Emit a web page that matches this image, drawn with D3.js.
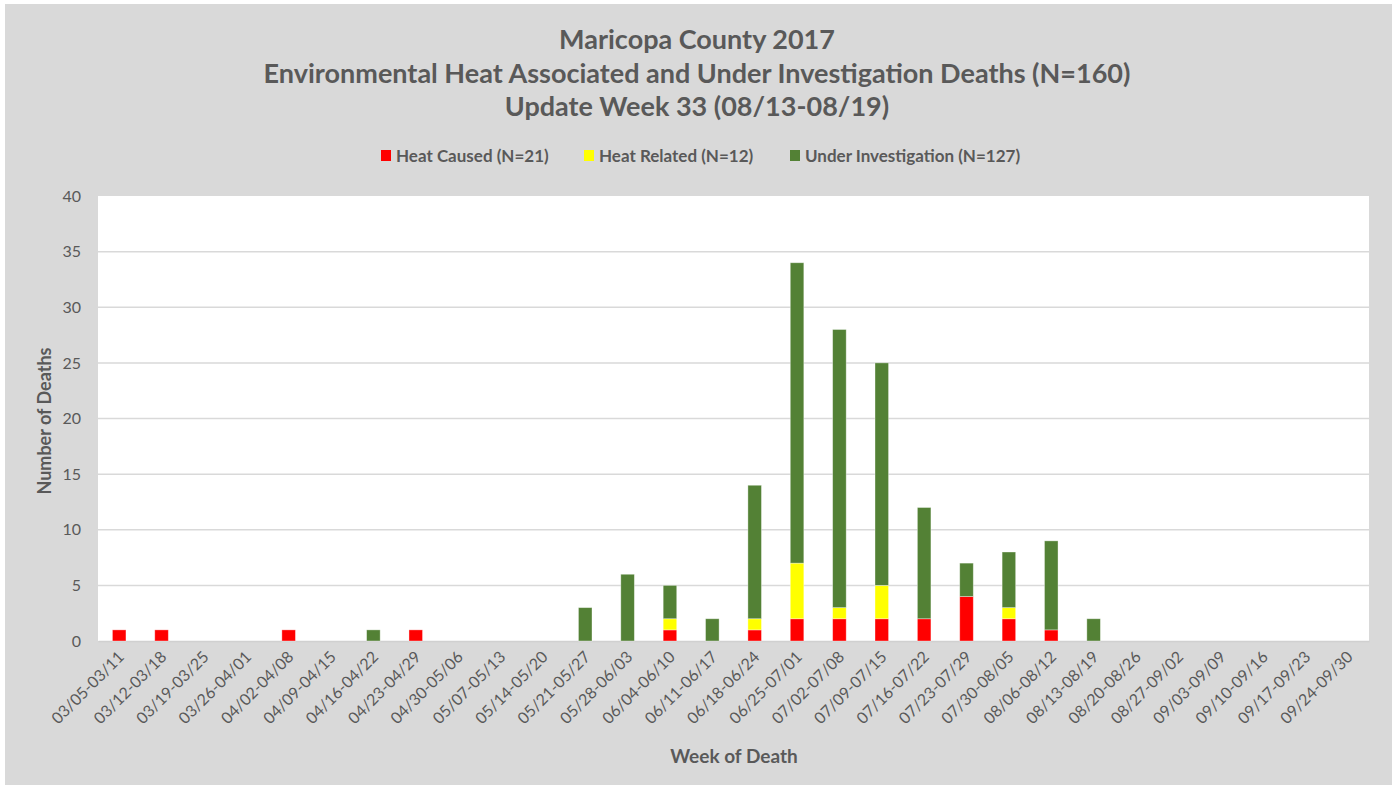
<!DOCTYPE html>
<html><head><meta charset="utf-8">
<script src="https://cdn.jsdelivr.net/npm/d3@7"></script>
<style>body{margin:0;background:#fff}svg{display:block}</style>
</head><body><svg id="c" width="1394" height="787"></svg>
<script>
const weeks = ["03/05-03/11","03/12-03/18","03/19-03/25","03/26-04/01","04/02-04/08","04/09-04/15","04/16-04/22","04/23-04/29","04/30-05/06","05/07-05/13","05/14-05/20","05/21-05/27","05/28-06/03","06/04-06/10","06/11-06/17","06/18-06/24","06/25-07/01","07/02-07/08","07/09-07/15","07/16-07/22","07/23-07/29","07/30-08/05","08/06-08/12","08/13-08/19","08/20-08/26","08/27-09/02","09/03-09/09","09/10-09/16","09/17-09/23","09/24-09/30"];
const heatCaused = [1,1,0,0,1,0,0,1,0,0,0,0,0,1,0,1,2,2,2,2,4,2,1,0,0,0,0,0,0,0];
const heatRelated = [0,0,0,0,0,0,0,0,0,0,0,0,0,1,0,1,5,1,3,0,0,1,0,0,0,0,0,0,0,0];
const underInvestigation = [0,0,0,0,0,0,1,0,0,0,0,3,6,3,2,12,27,25,20,10,3,5,8,2,0,0,0,0,0,0];
const seriesNames = ["Heat Caused (N=21)","Heat Related (N=12)","Under Investigation (N=127)"];
const seriesColors = ["#ff0000","#ffff00","#538135"];
const yTicks = [0,5,10,15,20,25,30,35,40];
const titleLines = ["Maricopa County 2017","Environmental Heat Associated and Under Investigation Deaths (N=160)","Update Week 33 (08/13-08/19)"];

const svg = d3.select("#c");
const FONT = "Lato, 'Open Sans', sans-serif";
const TXT = "#595959";
svg.append("rect").attr("x",5).attr("y",4).attr("width",1387).attr("height",781).attr("fill","#d9d9d9");

const plot = {l:98, r:1369, t:196, b:641};
svg.append("rect").attr("x",plot.l).attr("y",plot.t).attr("width",plot.r-plot.l).attr("height",plot.b-plot.t).attr("fill","#fff");

const x = d3.scaleBand().domain(weeks).range([plot.l, plot.r]).paddingInner(0.68).paddingOuter(0.34);
const y = d3.scaleLinear().domain([0,40]).range([plot.b, plot.t]);

// gridlines
svg.append("g").selectAll("line").data(yTicks.filter(d=>d>0 && d<40)).join("line")
  .attr("x1",plot.l).attr("x2",plot.r).attr("y1",d=>y(d)).attr("y2",d=>y(d))
  .attr("stroke","#d9d9d9").attr("stroke-width",1.5);

// y axis
const yAxis = d3.axisLeft(y).tickValues(yTicks).tickSize(0).tickPadding(17);
const gy = svg.append("g").attr("transform",`translate(${plot.l},0)`).call(yAxis);
gy.select(".domain").remove();
gy.selectAll("text").attr("font-family",FONT).attr("font-size",16).attr("fill",TXT);

// x axis
const xAxis = d3.axisBottom(x).tickSize(0).tickPadding(0);
const gx = svg.append("g").attr("transform",`translate(0,${plot.b})`).call(xAxis);
gx.select(".domain").attr("stroke","#d0d0d0").attr("stroke-width",1.5);
gx.selectAll("text").attr("font-family",FONT).attr("font-size",16).attr("fill",TXT)
  .attr("text-anchor","end").attr("dy",0).attr("y",0)
  .attr("transform","translate(6,17) rotate(-45)");

// stacked bars
const rows = weeks.map((w,i)=>({week:w, a:heatCaused[i], b:heatRelated[i], c:underInvestigation[i]}));
const stack = d3.stack().keys(["a","b","c"])(rows);
svg.append("g").selectAll("g").data(stack).join("g").attr("fill",(d,i)=>seriesColors[i])
  .selectAll("rect").data(d=>d.filter(s=>s[1]>s[0])).join("rect")
  .attr("x",d=>x(d.data.week)).attr("width",x.bandwidth())
  .attr("y",d=>y(d[1])).attr("height",d=>y(d[0])-y(d[1]))
  .attr("stroke","#ffffff").attr("stroke-opacity",0.45).attr("stroke-width",0.8);

// titles
svg.append("g").selectAll("text").data(titleLines).join("text")
  .attr("x",697).attr("y",(d,i)=>49+i*33.5).attr("text-anchor","middle")
  .attr("font-family",FONT).attr("font-weight","bold").attr("font-size",27).attr("fill",TXT).text(d=>d);

// legend
const legX = [381, 584, 790];
const lg = svg.append("g").selectAll("g").data(seriesNames).join("g")
  .attr("transform",(d,i)=>`translate(${legX[i]},150)`);
lg.append("rect").attr("width",10).attr("height",11).attr("fill",(d,i)=>seriesColors[i]);
lg.append("text").attr("x",15).attr("y",11.5).attr("font-family",FONT).attr("font-weight","bold")
  .attr("font-size",17).attr("fill",TXT).text(d=>d);

// axis titles
svg.append("text").attr("x",734).attr("y",763).attr("text-anchor","middle")
  .attr("font-family",FONT).attr("font-weight","bold").attr("font-size",19).attr("fill",TXT).text("Week of Death");
svg.append("text").attr("transform","translate(51,421) rotate(-90)").attr("text-anchor","middle")
  .attr("font-family",FONT).attr("font-weight","bold").attr("font-size",18).attr("fill",TXT).text("Number of Deaths");
</script></body></html>
